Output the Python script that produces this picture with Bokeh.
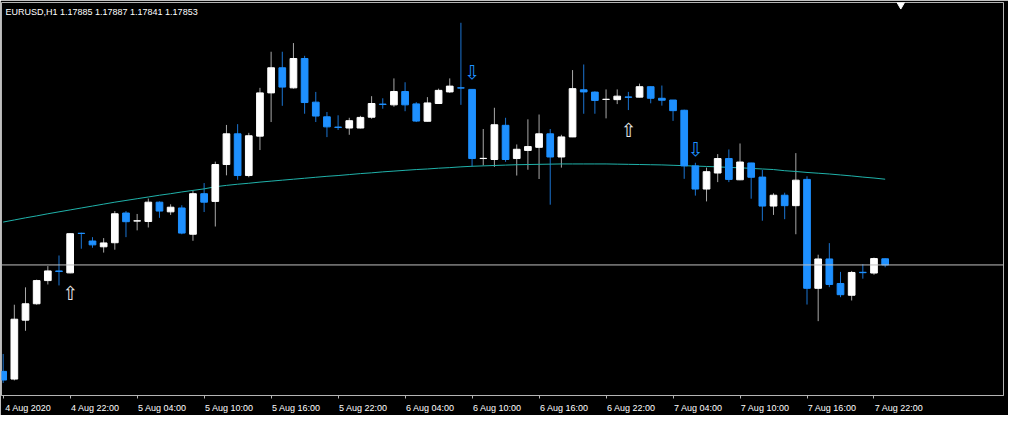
from bokeh.plotting import figure
from bokeh.models import Range1d, FixedTicker, LinearAxis, Span
from bokeh.core.properties import value
from bokeh.embed import file_html
from bokeh.resources import INLINE

symbol = "EURUSD,H1"

opens = [1.17302, 1.17262, 1.17567, 1.17652, 1.17772, 1.17822, 1.17812, 1.18017, 1.17977, 1.17947,
         1.17968, 1.18122, 1.18080, 1.18078, 1.18178, 1.18128, 1.18148, 1.18012, 1.18222, 1.18182,
         1.18373, 1.18532, 1.18316, 1.18520, 1.18744, 1.18874, 1.18770, 1.18922, 1.18696, 1.18620,
         1.18567, 1.18562, 1.18562, 1.18618, 1.18686, 1.18682, 1.18751, 1.18687, 1.18597, 1.18689,
         1.18749, 1.18770, 1.18762, 1.18404, 1.18399, 1.18576, 1.18404, 1.18446, 1.18462, 1.18532,
         1.18412, 1.18516, 1.18760, 1.18748, 1.18710, 1.18709, 1.18723, 1.18722, 1.18776, 1.18716,
         1.18707, 1.18654, 1.18366, 1.18246, 1.18329, 1.18404, 1.18294, 1.18381, 1.18308, 1.18158,
         1.18214, 1.18160, 1.18296, 1.17732, 1.17884, 1.17757, 1.17696, 1.17815, 1.17811, 1.17885]

highs = [1.17392, 1.17647, 1.17737, 1.17777, 1.17847, 1.17902, 1.18017, 1.18020, 1.17997, 1.17992,
         1.18132, 1.18132, 1.18117, 1.18197, 1.18182, 1.18167, 1.18162, 1.18237, 1.18277, 1.18388,
         1.18578, 1.18582, 1.18537, 1.18770, 1.18957, 1.18957, 1.19002, 1.18936, 1.18749, 1.18645,
         1.18628, 1.18615, 1.18625, 1.18727, 1.18716, 1.18819, 1.18799, 1.18696, 1.18722, 1.18766,
         1.18819, 1.19107, 1.18762, 1.18557, 1.18667, 1.18615, 1.18477, 1.18607, 1.18632, 1.18557,
         1.18527, 1.18862, 1.18891, 1.18752, 1.18762, 1.18762, 1.18749, 1.18792, 1.18777, 1.18782,
         1.18707, 1.18657, 1.18382, 1.18357, 1.18427, 1.18451, 1.18482, 1.18382, 1.18345, 1.18224,
         1.18227, 1.18432, 1.18312, 1.17906, 1.17966, 1.17817, 1.17822, 1.17857, 1.17891, 1.17887]

lows = [1.17242, 1.17255, 1.17512, 1.17647, 1.17752, 1.17747, 1.17810, 1.17937, 1.17942, 1.17917,
        1.17932, 1.17997, 1.18032, 1.18047, 1.18097, 1.18112, 1.18012, 1.17978, 1.18127, 1.18052,
        1.18317, 1.18294, 1.18307, 1.18448, 1.18593, 1.18677, 1.18766, 1.18636, 1.18593, 1.18515,
        1.18552, 1.18527, 1.18560, 1.18610, 1.18662, 1.18672, 1.18649, 1.18593, 1.18596, 1.18687,
        1.18744, 1.18682, 1.18362, 1.18368, 1.18361, 1.18387, 1.18316, 1.18346, 1.18298, 1.18165,
        1.18357, 1.18515, 1.18636, 1.18636, 1.18612, 1.18686, 1.18655, 1.18721, 1.18690, 1.18678,
        1.18599, 1.18299, 1.18212, 1.18182, 1.18282, 1.18282, 1.18292, 1.18196, 1.18082, 1.18112,
        1.18090, 1.18012, 1.17648, 1.17562, 1.17738, 1.17686, 1.17669, 1.17782, 1.17802, 1.17841]

closes = [1.17257, 1.17572, 1.17652, 1.17772, 1.17822, 1.17819, 1.18015, 1.18016, 1.17957, 1.17967,
          1.18118, 1.18077, 1.18082, 1.18178, 1.18132, 1.18152, 1.18018, 1.18222, 1.18178, 1.18373,
          1.18532, 1.18316, 1.18522, 1.18744, 1.18874, 1.18774, 1.18922, 1.18694, 1.18624, 1.18568,
          1.18565, 1.18600, 1.18617, 1.18689, 1.18684, 1.18751, 1.18682, 1.18598, 1.18692, 1.18757,
          1.18779, 1.18769, 1.18404, 1.18405, 1.18579, 1.18399, 1.18452, 1.18466, 1.18532, 1.18412,
          1.18516, 1.18766, 1.18749, 1.18705, 1.18711, 1.18727, 1.18721, 1.18776, 1.18716, 1.18706,
          1.18652, 1.18366, 1.18246, 1.18336, 1.18404, 1.18296, 1.18386, 1.18307, 1.18158, 1.18214,
          1.18160, 1.18292, 1.17732, 1.17884, 1.17752, 1.17699, 1.17814, 1.17813, 1.17886, 1.17853]

ma_values = [1.18075, 1.18086, 1.18097, 1.18107, 1.18118, 1.18128, 1.18138, 1.18148, 1.18158, 1.18168,
             1.18178, 1.18187, 1.18196, 1.18205, 1.18214, 1.18222, 1.18231, 1.18239, 1.18247, 1.18258,
             1.18265, 1.18271, 1.18276, 1.18282, 1.18287, 1.18292, 1.18297, 1.18302, 1.18307, 1.18312,
             1.18316, 1.18321, 1.18326, 1.18330, 1.18335, 1.18339, 1.18343, 1.18347, 1.18350, 1.18354,
             1.18357, 1.18361, 1.18364, 1.18366, 1.18368, 1.18370, 1.18372, 1.18373, 1.18374, 1.18375,
             1.18376, 1.18376, 1.18376, 1.18376, 1.18376, 1.18375, 1.18374, 1.18373, 1.18372, 1.18371,
             1.18369, 1.18367, 1.18365, 1.18363, 1.18361, 1.18358, 1.18356, 1.18353, 1.18350, 1.18347,
             1.18341, 1.18337, 1.18332, 1.18328, 1.18324, 1.18319, 1.18314, 1.18308, 1.18303, 1.18297]

tick_bars = [0, 6, 12, 18, 24, 30, 36, 42, 48, 54, 60, 66, 72, 78]
tick_labels = ["4 Aug 2020", "4 Aug 22:00", "5 Aug 04:00", "5 Aug 10:00", "5 Aug 16:00",
               "5 Aug 22:00", "6 Aug 04:00", "6 Aug 10:00", "6 Aug 16:00", "6 Aug 22:00",
               "7 Aug 04:00", "7 Aug 10:00", "7 Aug 16:00", "7 Aug 22:00"]

buy_arrow_bars = [6, 56]
buy_arrow_prices = [1.17707, 1.18552]
sell_arrow_bars = [42, 62]
sell_arrow_prices = [1.18852, 1.18455]

n = len(closes)
idx = list(range(n))
BLUE = "#1E90FF"
BLUE_WICK = "#1b74d1"
WHITE_WICK = "#a8a8a8"
GRID = "#b4b4b4"

x_lo, x_hi = -0.15, 89.6
y_lo, y_hi = 1.17177, 1.19212

p = figure(width=1008, height=415, x_range=Range1d(x_lo, x_hi), y_range=Range1d(y_lo, y_hi),
           output_backend="svg", toolbar_location=None,
           x_axis_location=None, y_axis_location=None,
           background_fill_color="black", border_fill_color="black",
           min_border_left=1, min_border_top=2, min_border_right=5, min_border_bottom=1)
p.grid.visible = False
p.outline_line_color = GRID

# bottom axis: minor ticks at bar positions, labels to the right of each tick
label_pos = [b + 2.25 for b in tick_bars]
xaxis = LinearAxis(ticker=FixedTicker(ticks=label_pos, minor_ticks=tick_bars),
                   major_label_overrides={lp: t for lp, t in zip(label_pos, tick_labels)},
                   axis_line_color=GRID, major_tick_line_color=None,
                   major_tick_out=0, major_tick_in=0,
                   minor_tick_line_color=GRID, minor_tick_out=3, minor_tick_in=0,
                   major_label_text_color="white", major_label_text_font="Liberation Sans",
                   major_label_text_font_size="9px", major_label_standoff=4)
p.add_layout(xaxis, "below")

up = [i for i in idx if closes[i] >= opens[i]]
dn = [i for i in idx if closes[i] < opens[i]]

# wicks
p.segment(x0=up, y0=[lows[i] for i in up], x1=up, y1=[highs[i] for i in up],
          line_color=WHITE_WICK, line_width=1)
p.segment(x0=dn, y0=[lows[i] for i in dn], x1=dn, y1=[highs[i] for i in dn],
          line_color=BLUE_WICK, line_width=1)

# moving average
p.line(idx, ma_values, line_color="#20B2AA", line_width=1)

# bodies
p.vbar(x=up, width=0.6, bottom=[opens[i] for i in up], top=[closes[i] for i in up],
       fill_color="white", line_color="white", line_width=1)
p.vbar(x=dn, width=0.6, bottom=[closes[i] for i in dn], top=[opens[i] for i in dn],
       fill_color=BLUE, line_color=BLUE, line_width=1)

# current price line
p.add_layout(Span(location=closes[-1], dimension="width", line_color="#c0c0c0", line_width=1))

# signal arrows
p.text(x=buy_arrow_bars, y=buy_arrow_prices, text=["\u21e7"] * len(buy_arrow_bars),
       text_font=value("DejaVu Sans"), text_font_size="19px", text_color="#e6e6e6",
       text_align="center", text_baseline="middle")
p.text(x=sell_arrow_bars, y=sell_arrow_prices, text=["\u21e9"] * len(sell_arrow_bars),
       text_font=value("DejaVu Sans"), text_font_size="19px", text_color=BLUE,
       text_align="center", text_baseline="middle")

# chart shift marker
p.scatter(x=[n + 0.4], y=[y_hi - 0.0001], marker="inverted_triangle", size=8,
          fill_color="white", line_color="white")

# header text
header = f"{symbol}  {opens[-1]:.5f} {highs[-1]:.5f} {lows[-1]:.5f} {closes[-1]:.5f}"
p.text(x=[x_lo], y=[y_hi], text=[header], x_offset=4, y_offset=4,
       text_font=value("Liberation Sans"), text_font_size="9px", text_color="white",
       text_align="left", text_baseline="top")

open("out.html", "w").write(file_html(p, INLINE))
